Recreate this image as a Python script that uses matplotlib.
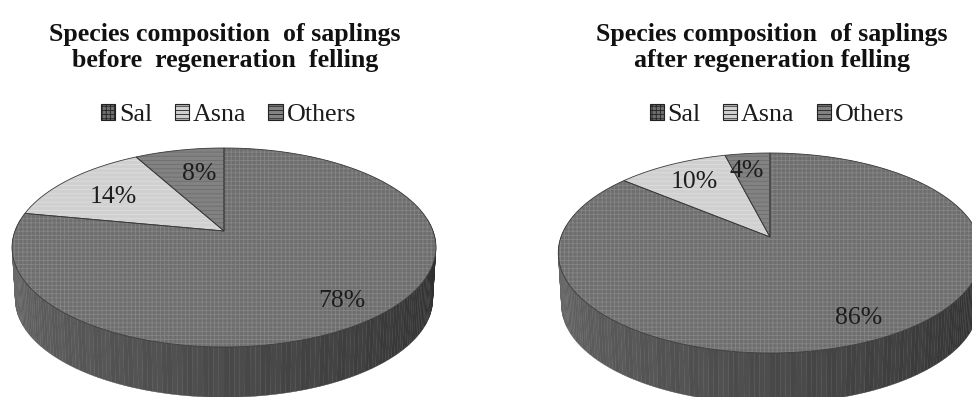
import numpy as np
import matplotlib
matplotlib.use("Agg")
import matplotlib.pyplot as plt
from matplotlib.patches import Polygon, Patch

plt.rcParams['font.family'] = ['Liberation Serif', 'DejaVu Serif']
plt.rcParams['hatch.linewidth'] = 0.6

categories = ['Sal', 'Asna', 'Others']
before_values = [78, 14, 8]
after_values = [86, 10, 4]
title_before = 'Species composition  of saplings\nbefore  regeneration  felling'
title_after = 'Species composition  of saplings\nafter regeneration felling'

styles = {
    'Sal': dict(facecolor='#6e6e6e', hatch='++++', edgecolor='#858585'),
    'Asna': dict(facecolor='#d0d0d0', hatch='----', edgecolor='#dedede'),
    'Others': dict(facecolor='#828282', hatch='----', edgecolor='#6e6e6e'),
}
OUTLINE = '#3a3a3a'


def project(theta, cx, cy, A, B, k):
    u, v = np.sin(theta), np.cos(theta)
    d = 1 + k * v
    return cx + A * u / d, cy - B * v / d


def pie3d(ax, values, cx, cy, top, bottom, depth, label_pos):
    up, dn = cy - top, bottom - cy
    k = (dn - up) / (dn + up)
    B = up * (1 + k)
    A = 209.0
    # side wall, as shaded vertical strips
    edges = np.linspace(np.pi / 2 - 0.12, 3 * np.pi / 2 + 0.12, 161)
    for a0, a1 in zip(edges[:-1], edges[1:]):
        xs0, ys0 = project(np.linspace(a0, a1, 3), cx, cy, A, B, k)
        xs1, ys1 = project(np.linspace(a1, a0, 3), cx, cy + depth, A * 0.985, B * 0.985, k)
        t = ((a0 + a1) / 2 - edges[0]) / (edges[-1] - edges[0])  # 0 right, 1 left
        g = 0.15 + 0.27 * t
        if int(a0 * 70) % 2:
            g += 0.015
        ax.add_patch(Polygon(np.c_[np.r_[xs0, xs1], np.r_[ys0, ys1]], closed=True,
                             facecolor=(g, g, g), edgecolor=(g, g, g), lw=0.3, zorder=1))
    # top face: wedges run clockwise from 12 o'clock, Sal first
    fracs = np.asarray(values, float) / sum(values)
    start = 0.0
    for name, f in zip(categories, fracs):
        th = np.linspace(start, start + 2 * np.pi * f, max(int(f * 360), 4))
        x, y = project(th, cx, cy, A, B, k)
        ax.add_patch(Polygon(np.c_[np.r_[cx, x], np.r_[cy, y]], closed=True,
                             lw=0, zorder=2, **styles[name]))
        ax.add_patch(Polygon(np.c_[np.r_[cx, x], np.r_[cy, y]], closed=True,
                             fill=False, edgecolor=OUTLINE, lw=0.6, zorder=3))
        start += 2 * np.pi * f
    for v, (lx, ly) in zip(values, label_pos):
        ax.text(lx, ly, f'{v}%', ha='center', va='center', fontsize=18.5,
                color='#1c1c1c', zorder=4)


fig = plt.figure(figsize=(9.72, 3.97), dpi=100, facecolor='white')
axl = fig.add_axes([0, 0, 0.5, 1])
axr = fig.add_axes([0.5, 0, 0.5, 1])
axl.set_xlim(0, 486)
axr.set_xlim(486, 972)

pie3d(axl, before_values, 224, 231, 148, 347, 52, [(342, 301), (113, 197), (199, 174)])
pie3d(axr, after_values, 770, 237, 153, 353, 52, [(859, 318), (694, 182), (747, 171)])

for ax, title, tx, lx in ((axl, title_before, 225, 228.5), (axr, title_after, 772, 777)):
    ax.set_ylim(397, 0)
    ax.axis('off')
    ax.text(tx, 47.5, title, ha='center', va='center', fontsize=18.6,
            fontweight='bold', color='#111111', linespacing=1.22)
    handles = [Patch(label=c, facecolor=styles[c]['facecolor'], hatch=styles[c]['hatch'],
                     edgecolor='#222222', lw=0.8) for c in categories]
    ax.legend(handles=handles, loc='center', bbox_to_anchor=(lx, 115),
              bbox_transform=ax.transData, ncols=3, frameon=False, fontsize=18.7,
              handlelength=0.55, handleheight=0.55, handletextpad=0.15,
              columnspacing=0.85, labelcolor='#1c1c1c', borderpad=0, borderaxespad=0)

fig.savefig('out.png', dpi=100)
